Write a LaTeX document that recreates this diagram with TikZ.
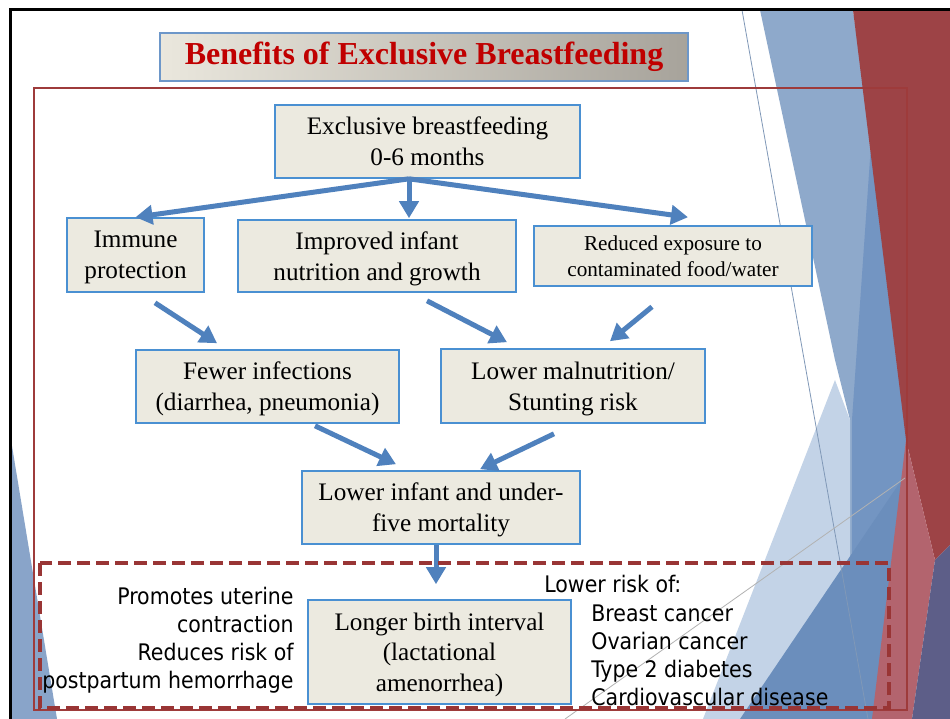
\documentclass[tikz,border=0pt]{standalone}
\usepackage{fontspec}
\setmainfont{Liberation Serif}
\newfontfamily\tahoma{DejaVu Sans Condensed}
\usetikzlibrary{positioning,arrows.meta,calc}
\definecolor{boxfill}{HTML}{ECEAE0}
\definecolor{boxline}{HTML}{4A90D2}
\definecolor{arrowblue}{HTML}{4F81BD}
\definecolor{framered}{HTML}{9E3B3B}
\definecolor{dashred}{HTML}{993535}
\definecolor{titlered}{HTML}{C00000}
\definecolor{titlelo}{HTML}{EAE7DD}
\definecolor{titlehi}{HTML}{A7A39B}
\definecolor{titleline}{HTML}{6D97C9}
\definecolor{bandblue}{HTML}{8EA9CB}
\definecolor{paleblue}{HTML}{C3D3E7}
\definecolor{midblue}{HTML}{7395C2}
\definecolor{deepblue}{HTML}{6B8EBC}
\definecolor{slidered}{HTML}{9D4346}
\definecolor{slidepink}{HTML}{B3646E}
\definecolor{slidepurple}{HTML}{5D5E88}
\tikzset{
  box/.style={draw=boxline, fill=boxfill, line width=0.8pt, align=center, inner sep=2pt, text depth=0pt, font=\fontsize{12.6}{15.5}\selectfont},
  arr/.style={-{Triangle[length=8.5pt,width=9.5pt]}, line width=2.5pt, arrowblue},
  side/.style={font=\tahoma\fontsize{11.4}{14}\selectfont, inner sep=0pt},
  facet/.style={draw=none},
}

\begin{document}
\begin{tikzpicture}[x=0.5pt, y=-0.5pt]
\useasboundingbox (0,0) rectangle (950,719);
\fill[white] (0,0) rectangle (950,719);
% slide background facets
\fill[facet, bandblue] (760,10) -- (853,10) -- (906,390) -- (906,719) -- (850,719) -- (850,420) -- (835,360) -- cycle;
\fill[facet, midblue] (872,130) -- (906,390) -- (906,719) -- (852,719) -- (852,420) -- cycle;
\fill[facet, paleblue] (703,719) -- (835,380) -- (850,420) -- (850,719) -- cycle;
\fill[facet, deepblue] (740,719) -- (905,475) -- (905,719) -- cycle;
\fill[facet, slidered] (853,10) -- (950,10) -- (950,545) -- (935,560) -- (906,440) -- cycle;
\fill[facet, slidepink] (906,440) -- (935,560) -- (912,719) -- (872,719) -- cycle;
\fill[facet, slidepurple] (950,545) -- (950,719) -- (912,719) -- (935,560) -- cycle;
\fill[facet, deepblue!80] (11,440) -- (11,719) -- (57,719) -- cycle;
\draw[line width=0.4pt, bandblue!90!black] (742,10) -- (868,719);
\draw[line width=0.4pt, gray!60] (565,719) -- (905,478);
% slide border
\draw[line width=1.5pt] (950,9) -- (10,9) -- (10,719);
\draw[framered, line width=1pt] (34,88) rectangle (907,710);

\node[draw=titleline, line width=0.6pt, left color=titlelo, right color=titlehi, minimum width=264pt, minimum height=24pt, font=\fontsize{16}{19}\selectfont\bfseries, text=titlered] (title) at (424,57) {Benefits of Exclusive Breastfeeding};

\node[box, minimum width=152.5pt, minimum height=36.5pt] (ebf) at (427.5,141.5) {Exclusive breastfeeding\\0-6 months};
\node[box, minimum width=68.5pt, minimum height=37pt] (imm) at (135.5,255) {Immune\\protection};
\node[box, minimum width=139pt, minimum height=36pt] (imp) at (377,256) {Improved infant\\nutrition and growth};
\node[box, minimum width=139pt, minimum height=30pt, font=\fontsize{10.6}{13}\selectfont] (red) at (673,256) {Reduced exposure to\\contaminated food/water};
\node[box, minimum width=131.5pt, minimum height=36.5pt] (few) at (267.5,386.5) {Fewer infections\\(diarrhea, pneumonia)};
\node[box, minimum width=132pt, minimum height=37pt] (mal) at (573,386) {Lower malnutrition/\\Stunting risk};
\node[box, minimum width=139pt, minimum height=36.5pt] (mort) at (441,507.5) {Lower infant and under-\\five mortality};
\node[box, minimum width=131.5pt, minimum height=52pt, font=\fontsize{12.6}{15.25}\selectfont] (birth) at (439.5,652) {Longer birth interval\\(lactational\\amenorrhea)};

% fan out from the top box
\coordinate (fork) at ([shift={(-18.5,0)}]ebf.south);
\draw[arr] (fork) -- (imm.north);
\draw[arr] (fork) -- ([shift={(0,-1)}]fork |- imp.north);
\draw[arr] (fork) -- ([shift={(15,-8)}]red.north);
\draw[arr] ([shift={(19.5,10)}]imm.south) -- ([shift={(-50.5,-6)}]few.north);
\draw[arr] ([shift={(50,8)}]imp.south) -- ([shift={(-66,-6)}]mal.north);
\draw[arr] ([shift={(-21,20)}]red.south) -- ([shift={(37,-7)}]mal.north);
\draw[arr] ([shift={(47.5,2)}]few.south) -- ([shift={(-45,-6)}]mort.north);
\draw[arr] ([shift={(-19,10)}]mal.south) -- ([shift={(39,-1)}]mort.north);
\draw[arr] ([shift={(-5,0)}]mort.south) -- ([shift={(-3.5,-15)}]birth.north);

% maternal benefits
\draw[dashred, line width=2pt, dash pattern=on 6.5pt off 3pt] (40,563) rectangle (889,708);
\node[side, align=right, anchor=east] (uter) at (294,640) {Promotes uterine\\contraction\\Reduces risk of\\postpartum hemorrhage};
\node[side, anchor=west] (risk) at (544,584) {Lower risk of:};
\node[side, align=left, anchor=north west] (dis) at (591,604) {Breast cancer\\Ovarian cancer\\Type 2 diabetes\\Cardiovascular disease};
\end{tikzpicture}
\end{document}
